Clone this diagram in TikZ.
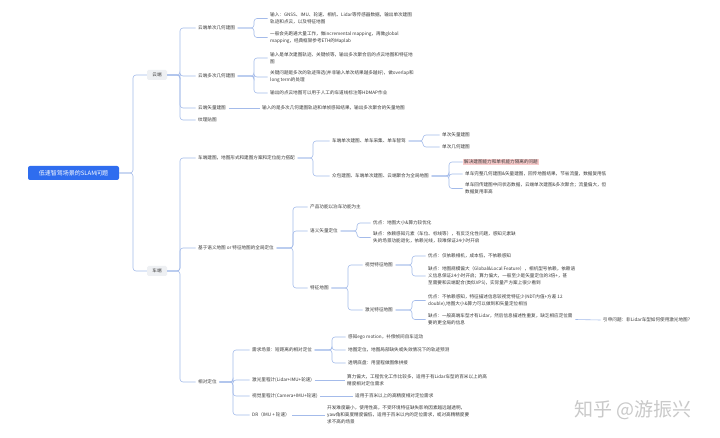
\documentclass[tikz,border=0pt]{standalone}
\usepackage{fontspec}
\setmainfont{Noto Sans CJK SC}
\definecolor{linec}{HTML}{A4BBEA}
\definecolor{txt}{HTML}{3A3A3A}
\definecolor{rootc}{HTML}{2F6DEF}
\definecolor{grpc}{HTML}{EEF0F3}
\definecolor{hl}{HTML}{F7CACA}
\definecolor{wm}{HTML}{C9C9C9}
\newcommand\mmfs{\fontsize{4.6}{7.2}\selectfont}
\newcommand\mmlink[3]{\draw[conn] (#1.east) -- (#1.east -| #3,0) |- (#2.west);}
\tikzset{
  conn/.style={draw=linec, line width=0.6pt, rounded corners=3pt},
  t/.style={anchor=west, inner xsep=2.5pt, inner ysep=0.8pt, text=txt, font=\mmfs, align=left},
  rootbox/.style={fill=rootc, rounded corners=2pt, text=white, font=\fontsize{6}{7}\selectfont, minimum width=91pt, minimum height=14pt, inner sep=1pt},
  grp/.style={fill=grpc, rounded corners=1.5pt, text=txt, font=\mmfs, minimum width=20pt, minimum height=10pt, inner sep=1pt},
  hlbox/.style={t, fill=hl, inner xsep=1.5pt},
}
\begin{document}
\begin{tikzpicture}[x=1pt,y=-1pt]
\useasboundingbox (0,0) rectangle (720,438);
\fill[white] (0,0) rectangle (720,438);

% root and groups
\node[rootbox] (root) at (73.5,173) {低速智驾场景的SLAM问题};
\node[grp] (cloud) at (157,75) {云端};
\node[grp] (car) at (157,271) {车端};

% cloud branch
\node[t] (c1) at (195.5,28) {云端单次几何建图};
\node[t] (c2) at (195.5,76) {云端多次几何建图};
\node[t] (c3) at (195.5,108) {云端矢量建图};
\node[t] (c4) at (195.5,120) {纹理贴图};

\node[t] (d11) at (267.5,18.5) {输入：GNSS、IMU、轮速、相机、Lidar等传感器数据，输出单次建图\\轨迹和点云，以及特征地图};
\node[t] (d12) at (267.5,37.5) {一般会先跑通大量工作，做incremental mapping，再做global\\mapping，经典框架参考ETH的Maplab};
\node[t] (d21) at (267.5,58) {输入是单次建图轨迹、关键帧等，输出多次聚合后的点云地图和特征地\\图};
\node[t] (d22) at (267.5,77) {关键问题是多次的轨迹筛选(并非输入单次结果越多越好)，做overlap和\\long term的处理};
\node[t] (d23) at (267.5,93) {输出的点云地图可以用于人工的车道线标注等HDMAP作业};
\node[t] (d31) at (259.5,108) {输入的是多次几何建图轨迹和单帧感知结果，输出多次聚合的矢量地图};

% car branch
\node[t] (e1) at (195.5,158) {车端建图，地图形式和建图方案和定位能力搭配};
\node[t] (e2) at (195.5,248) {基于语义地图 or 特征地图的全局定位};
\node[t] (e3) at (195.5,382) {相对定位};

\node[t] (f1) at (329.5,141) {车端单次建图、单车采集、单车智驾};
\node[t] (f2) at (329.5,176) {众包建图、车端单次建图、云端聚合为全局地图};
\node[t] (g1) at (439.5,135) {单次矢量建图};
\node[t] (g2) at (439.5,147) {单次几何建图};
\node[hlbox] (h1) at (462.5,162) {解决建图能力和单机能力隔离的问题};
\node[t] (h2) at (462.5,174) {单车完整几何建图\&矢量建图，回传地图结果，节省流量，数据复用低};
\node[t] (h3) at (462.5,188.5) {单车回传建图中间状态数据，云端单次建图\&多次聚合；流量偏大，但\\数据复用率高};

\node[t] (i1) at (307.5,207) {产品功能以泊车功能为主};
\node[t] (i2) at (307.5,231) {语义矢量定位};
\node[t] (i3) at (307.5,288) {特征地图};
\node[t] (j1) at (370.5,223) {优点：地图大小\&算力较优化};
\node[t] (j2) at (370.5,237.5) {缺点：依赖感知元素（车位、标线等），有反泛化性问题，感知元素缺\\失的场景功能退化，依赖光线，较难保证24小时开启};
\node[t] (k1) at (362.5,265) {视觉特征地图};
\node[t] (k2) at (362.5,310) {激光特征地图};
\node[t] (l1) at (425.5,256) {优点：仅依赖相机，成本低，不依赖感知};
\node[t] (l2) at (425.5,276) {缺点：地图规模偏大（Global\&Local Feature），相机型号依赖，依赖语\\义信息保证24小时开启；算力偏大，一般至少是矢量定位的3倍+，甚\\至需要和云端配合(类似VPS)，实际量产方案上很少看到};
\node[t] (m1) at (425.5,300.5) {优点：不依赖感知，特征描述信息较视觉特征少(NDT内值+方差 12\\double),地图大小\&算力可以做到和矢量定位相当};
\node[t] (m2) at (425.5,319.5) {缺点：一般高端车型才有Lidar，然后信息描述性重复，缺乏相应定位需\\要的更全局的信息};
\node[t] (n) at (600.5,320) {引申问题：非Lidar车型如何使用激光地图?};

\node[t] (o1) at (249.5,350) {需求场景：短距离的相对定位};
\node[t] (o2) at (249.5,380) {激光里程计(Lidar+IMU+轮速)};
\node[t] (o3) at (249.5,396) {视觉里程计(Camera+IMU+轮速)};
\node[t] (o4) at (249.5,415) {DR（IMU + 轮速）};
\node[t] (p1) at (345.5,337) {感知ego motion，补偿帧间自车运动};
\node[t] (p2) at (345.5,350) {地图定位，地图局部缺失或失效情况下的轨迹预测};
\node[t] (p3) at (345.5,363) {透明底盘：用里程做图像拼接};
\node[t] (q) at (344.5,380) {算力偏大，工程优化工作比较多，适用于有Lidar车型的百米以上的高\\精度相对定位需求};
\node[t] (r) at (352.5,396) {适用于百米以上的高精度相对定位需求};
\node[t] (s) at (324.5,415) {开发难度最小，使用性高，不受环境特征缺失影响因素越远越透明，\\yaw角和高度精度偏低，适用于百米以内的定位需求，或对高精精度要\\求不高的场景};

% watermark
\node[text=wm, font=\fontsize{19}{20}\selectfont, inner sep=0pt] (wmk) at (633,410) {知乎 @游振兴};

% connectors
\mmlink{root}{cloud}{133}
\mmlink{root}{car}{133}
\mmlink{cloud}{c1}{180}
\mmlink{cloud}{c2}{180}
\mmlink{cloud}{c3}{180}
\mmlink{cloud}{c4}{180}
\mmlink{c1}{d11}{254}
\mmlink{c1}{d12}{254}
\mmlink{c2}{d21}{254}
\mmlink{c2}{d22}{254}
\mmlink{c2}{d23}{254}
\draw[conn] (c3.east) -- (d31.west);
\mmlink{car}{e1}{180}
\mmlink{car}{e2}{180}
\mmlink{car}{e3}{180}
\mmlink{e1}{f1}{313}
\mmlink{e1}{f2}{313}
\mmlink{f1}{g1}{423}
\mmlink{f1}{g2}{423}
\mmlink{f2}{h1}{449}
\mmlink{f2}{h2}{449}
\mmlink{f2}{h3}{449}
\mmlink{e2}{i1}{293}
\mmlink{e2}{i2}{293}
\mmlink{e2}{i3}{293}
\mmlink{i2}{j1}{357}
\mmlink{i2}{j2}{357}
\mmlink{i3}{k1}{348}
\mmlink{i3}{k2}{348}
\mmlink{k1}{l1}{412}
\mmlink{k1}{l2}{412}
\mmlink{k2}{m1}{412}
\mmlink{k2}{m2}{412}
\draw[conn] (m2.east) -- (n.west);
\mmlink{e3}{o1}{233}
\mmlink{e3}{o2}{233}
\mmlink{e3}{o3}{233}
\mmlink{e3}{o4}{233}
\mmlink{o1}{p1}{332}
\mmlink{o1}{p2}{332}
\mmlink{o1}{p3}{332}
\draw[conn] (o2.east) -- (q.west);
\draw[conn] (o3.east) -- (r.west);
\draw[conn] (o4.east) -- (s.west);
\end{tikzpicture}
\end{document}
